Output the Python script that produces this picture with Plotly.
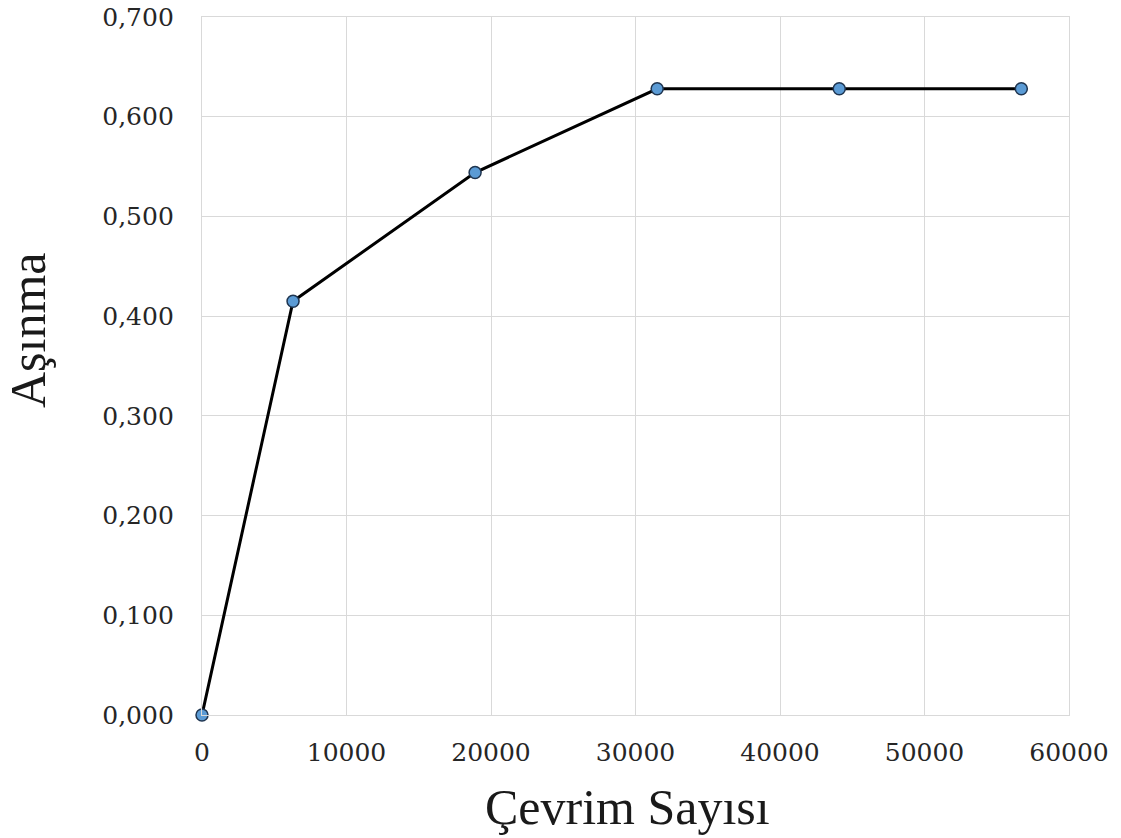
import plotly.graph_objects as go

# Wear measured against number of cycles
cycles = [0, 6300, 18900, 31500, 44100, 56700]
wear = [0.000, 0.415, 0.544, 0.628, 0.628, 0.628]

x_ticks = [0, 10000, 20000, 30000, 40000, 50000, 60000]
y_ticks = [0.0, 0.1, 0.2, 0.3, 0.4, 0.5, 0.6, 0.7]

W, H = 1121, 838
L, R, T, B = 202, 52, 17, 123

grid = "#d9d9d9"
tick_font = dict(family="DejaVu Serif", size=25, color="#262626")
title_font = dict(family="Liberation Serif", size=50, color="#1a1a1a")

fig = go.Figure(
    go.Scatter(
        x=cycles,
        y=wear,
        mode="lines+markers",
        line=dict(color="#000000", width=3),
        marker=dict(size=12, color="#5b9bd5", line=dict(color="#1f3550", width=1.5)),
        cliponaxis=False,
    )
)

fig.update_layout(
    width=W,
    height=H,
    margin=dict(l=L, r=R, t=T, b=B),
    paper_bgcolor="white",
    plot_bgcolor="white",
    separators=", ",
    showlegend=False,
)

common = dict(
    showgrid=True,
    gridcolor=grid,
    gridwidth=1.3,
    zeroline=False,
    showline=True,
    linecolor=grid,
    linewidth=1.3,
    mirror=True,
    ticks="",
    tickfont=tick_font,
    automargin=False,
)

fig.update_xaxes(range=[0, 60000], tickvals=x_ticks, tickformat="d",
                 ticklabelstandoff=15, **common)
fig.update_yaxes(range=[0, 0.7], tickvals=y_ticks, tickformat=".3f",
                 ticklabelstandoff=22, **common)

# Axis titles placed in pixel terms relative to the paper
fig.add_annotation(
    text="Çevrim Sayısı", font=title_font, showarrow=False,
    xref="paper", yref="paper",
    x=(627 - L) / (W - L - R), y=-(807 - (H - B)) / (H - T - B),
    xanchor="center", yanchor="middle",
)
fig.add_annotation(
    text="Aşınma", font=title_font, showarrow=False, textangle=-90,
    xref="paper", yref="paper",
    x=-(L - 28) / (W - L - R), y=(H - B - 330) / (H - T - B),
    xanchor="center", yanchor="middle",
)

fig.write_html("out.html")
